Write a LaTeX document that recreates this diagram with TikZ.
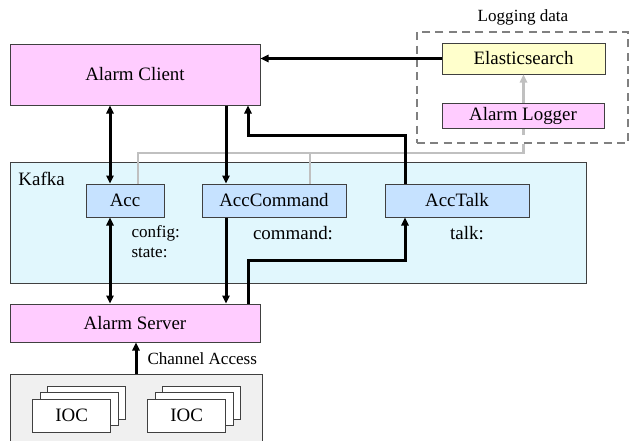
\documentclass[tikz,border=0pt]{standalone}
\usepackage{fontspec}
\setmainfont{Liberation Serif}
\usetikzlibrary{arrows.meta}

\definecolor{clientpink}{RGB}{255,204,255}
\definecolor{elasticyellow}{RGB}{255,255,204}
\definecolor{kafkacyan}{RGB}{225,247,253}
\definecolor{topicblue}{RGB}{198,226,255}
\definecolor{iocgray}{RGB}{240,240,240}
\definecolor{boxedge}{RGB}{64,64,64}
\definecolor{logline}{RGB}{192,192,192}
\definecolor{logdash}{RGB}{128,128,128}

\tikzset{every picture/.style={line width=0.75pt}}
\tikzset{
  box/.style={draw=boxedge, line width=0.75pt, inner sep=0pt, font=\fontsize{14.2}{17}\selectfont},
  lbl/.style={inner sep=0pt, font=\fontsize{14.2}{17}\selectfont},
  smalllbl/.style={inner sep=0pt, font=\fontsize{12.8}{15}\selectfont},
  flow/.style={line width=2.25pt, -{Triangle[length=6pt,width=5.5pt]}},
  twoway/.style={line width=2.25pt, {Triangle[length=6pt,width=5.5pt]}-{Triangle[length=6pt,width=5.5pt]}},
  logflow/.style={color=logline, line width=2.2pt},
}

\begin{document}
\begin{tikzpicture}[x=0.75pt,y=0.75pt,yscale=-1,xscale=1]
\useasboundingbox (0,0) rectangle (630,440);

% Boxes
\node [box, fill=kafkacyan, minimum width=432pt, minimum height=90.75pt] (kafka) at (298,222.5) {};
\node [box, fill=iocgray, minimum width=189pt, minimum height=53.25pt] (iocbox) at (136,409.5) {};
\node [draw=logdash, line width=1.5pt, dash pattern={on 6pt off 4pt}, minimum width=158.25pt, minimum height=83.25pt] (logbox) at (522.5,87.5) {};
\node [box, fill=clientpink, minimum width=187.5pt, minimum height=45.75pt] (client) at (135,74.5) {Alarm Client};
\node [box, fill=elasticyellow, minimum width=122.25pt, minimum height=23.25pt] (elastic) at (523.5,58.5) {Elasticsearch};
\node [box, fill=topicblue, minimum width=58.5pt, minimum height=24.75pt] (acc) at (125,200.5) {Acc};
\node [box, fill=topicblue, minimum width=108pt, minimum height=24.75pt] (acccmd) at (274,200.5) {AccCommand};
\node [box, fill=topicblue, minimum width=108pt, minimum height=24.75pt] (acctalk) at (457,200.5) {AccTalk};
\node [box, fill=clientpink, minimum width=187.5pt, minimum height=28.5pt] (server) at (135,323) {Alarm Server};

% IOC stacks
\node [box, fill=white, minimum width=58.5pt, minimum height=24.75pt] (iocAc) at (86.7,402.5) {};
\node [box, fill=white, minimum width=58.5pt, minimum height=24.75pt] (iocAb) at (79.2,409) {};
\node [box, fill=white, minimum width=58.5pt, minimum height=24.75pt] (iocAa) at (71.7,415.5) {IOC};
\node [box, fill=white, minimum width=58.5pt, minimum height=24.75pt] (iocBc) at (201.7,402.5) {};
\node [box, fill=white, minimum width=58.5pt, minimum height=24.75pt] (iocBb) at (194.2,409) {};
\node [box, fill=white, minimum width=58.5pt, minimum height=24.75pt] (iocBa) at (186.7,415.5) {IOC};

% Line positions
\coordinate (xacc) at (110,0);
\coordinate (xcmd) at (226,0);
\coordinate (xsrv) at (248,0);
\coordinate (xtalk) at (405,0);
\coordinate (xlogA) at (138,0);
\coordinate (xlogB) at (310,0);
\coordinate (xca) at (136,0);
\coordinate (ylog) at (0,153);
\coordinate (ytop) at (0,135);
\coordinate (ybot) at (0,260);

%Gray Lines (topics to logger to elasticsearch)
\draw [logflow] (xlogA |- acc.north) -- (xlogA |- ylog) -- (elastic.south |- ylog) -- (elastic.south |- logbox.south);
\draw [logflow] (xlogB |- acccmd.north) -- (xlogB |- ylog);
\draw [logflow, -{Triangle[length=6pt,width=5.5pt]}] (elastic.south |- ytop) -- (elastic.south);
\node [box, fill=clientpink, minimum width=121.5pt, minimum height=18.75pt] (logger) at (523,115.5) {Alarm Logger};

%Straight Lines
\draw [flow] (elastic.west) -- (elastic.west -| client.east);
\draw [twoway] (xacc |- client.south) -- (xacc |- acc.north);
\draw [flow] (xcmd |- client.south) -- (xcmd |- acccmd.north);
\draw [flow] (xtalk |- acctalk.north) -- (xtalk |- ytop) -- (xsrv |- ytop) -- (xsrv |- client.south);
\draw [twoway] (xacc |- acc.south) -- (xacc |- server.north);
\draw [flow] (xcmd |- acccmd.south) -- (xcmd |- server.north);
\draw [flow] (xsrv |- server.north) -- (xsrv |- ybot) -- (xtalk |- ybot) -- (xtalk |- acctalk.south);
\draw [flow] (xca |- iocbox.north) -- (xca |- server.south);

% Text Node
\node [smalllbl] (logtitle) at (523,17) {Logging data};
% Text Node
\node [lbl, anchor=west] (kafkatitle) at (18,179) {Kafka};
% Text Node
\node [smalllbl, anchor=west] (configlbl) at (131,233) {config:};
% Text Node
\node [smalllbl, anchor=west] (statelbl) at (131,253) {state:};
% Text Node
\node [lbl] (commandlbl) at (293,233) {command:};
% Text Node
\node [lbl] (talklbl) at (467,233) {talk:};
% Text Node
\node [smalllbl, anchor=west] (calbl) at (147,359) {Channel Access};

\end{tikzpicture}
\end{document}
